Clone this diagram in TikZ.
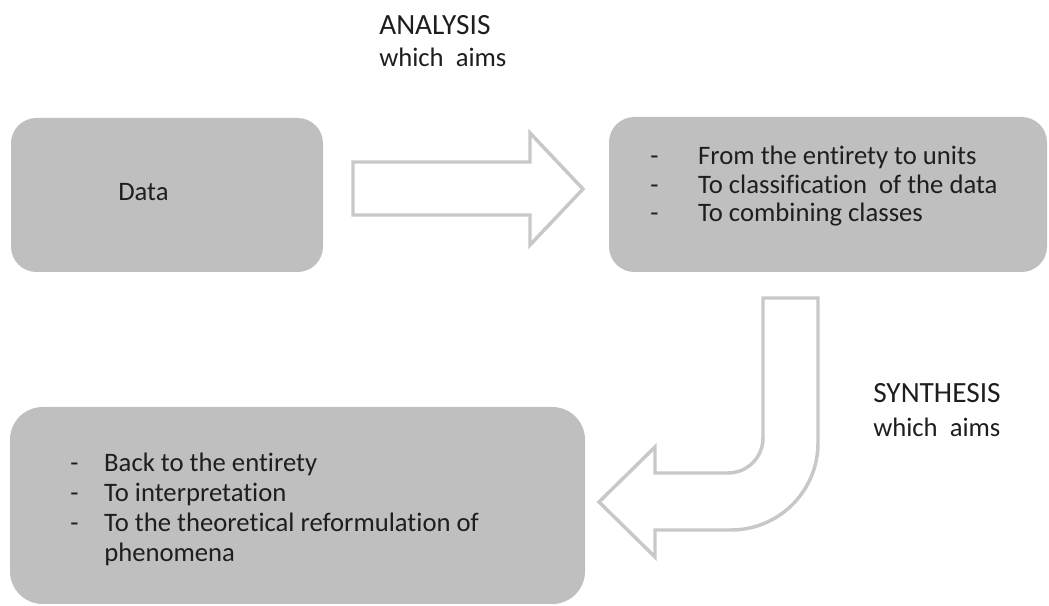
\documentclass[tikz,border=0pt]{standalone}
\usepackage{fontspec}
\setmainfont{Carlito}[Ligatures=NoCommon]
\usetikzlibrary{positioning}
\definecolor{panelGray}{RGB}{191,191,191}
\definecolor{arrowGray}{RGB}{200,200,200}
\definecolor{inkGray}{RGB}{30,30,30}
\newcommand{\dashrow}[2]{\makebox[#1][l]{-}#2}
\tikzset{
  panel/.style={rectangle,rounded corners=#1,fill=panelGray,draw=none,inner sep=0pt},
  blockArrow/.style={draw=arrowGray,line width=2.6pt,line join=miter,fill=white},
  bodyTxt/.style={font=\fontsize{20pt}{21.4pt}\selectfont,text=inkGray,align=left,inner sep=0pt},
  headTxt/.style={font=\fontsize{22pt}{24pt}\selectfont,text=inkGray,inner sep=0pt},
}

\begin{document}
\begin{tikzpicture}[x=0.75pt,y=0.75pt]
  \useasboundingbox (0,0) rectangle (1049,606);
  % the three panels
  \node[panel=19pt,minimum width=234pt,minimum height=115.5pt](data) at (167,411){};
  \node[panel=19pt,minimum width=328.5pt,minimum height=116.25pt](aims) at (828,411.5){};
  \node[panel=24.5pt,minimum width=431.25pt,minimum height=147.75pt](back) at (297.5,100.5){};
  % their texts (base = last line)
  \node[bodyTxt,anchor=base west](dataTxt) at (118,405){Data};
  \node[bodyTxt,anchor=base west](aimsTxt) at (650,384){%
    \dashrow{36pt}{From the entirety to units}\\
    \dashrow{36pt}{To classification\ \ of the data}\\
    \dashrow{36pt}{To combining classes}};
  \node[bodyTxt,font=\fontsize{20pt}{22.5pt}\selectfont,anchor=base west](backTxt) at (70,44){%
    \dashrow{25.5pt}{Back to the entirety}\\
    \dashrow{25.5pt}{To interpretation}\\
    \dashrow{25.5pt}{To the theoretical reformulation of}\\
    \hspace*{25.5pt}phenomena};
  % headings
  \node[headTxt,anchor=base west](anaHead) at (379,571){ANALYSIS};
  \node[bodyTxt,anchor=base west](anaAims) at (379,539){which\ \ aims};
  \node[headTxt,anchor=base west](synHead) at (873,203){SYNTHESIS};
  \node[bodyTxt,anchor=base west](synAims) at (873,169){which\ \ aims};
  % block arrows
  \draw[blockArrow] (353,444) -- (530,444) -- (530,473) -- (583,417)
    -- (530,361) -- (530,391) -- (353,391) -- cycle;
  \draw[blockArrow] (763,308) -- (818,308) -- (818,163)
    arc[start angle=0,end angle=-90,radius=65.25pt] -- (655,76) -- (655,49)
    -- (599,104) -- (655,159) -- (655,133) -- (728,133)
    arc[start angle=-90,end angle=0,radius=26.25pt] -- cycle;
\end{tikzpicture}
\end{document}
